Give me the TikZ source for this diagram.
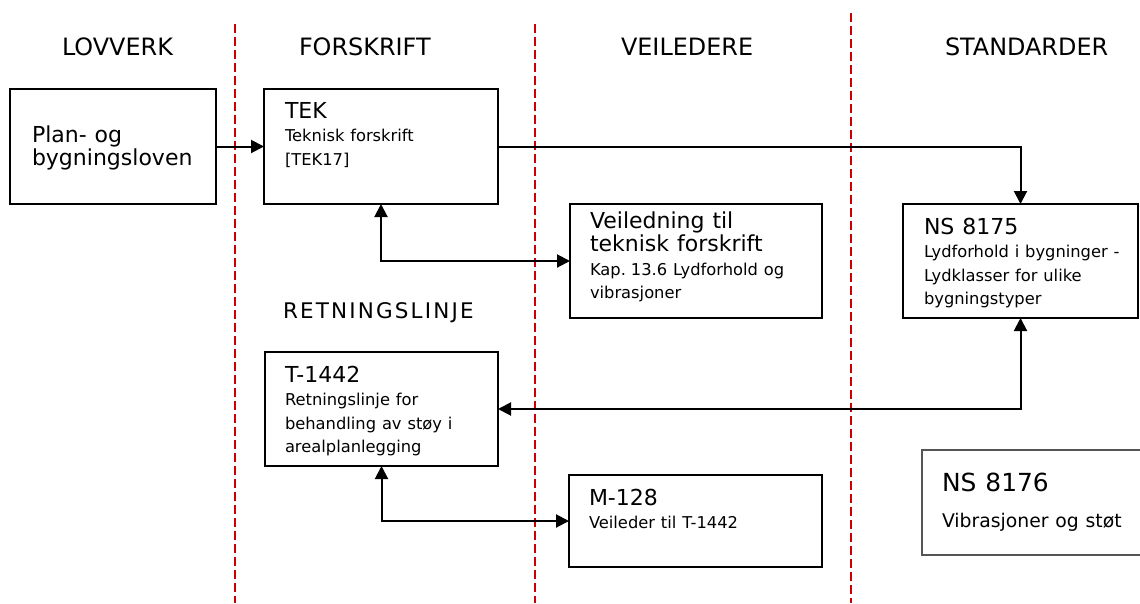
\documentclass[tikz,border=0pt]{standalone}
\usepackage{fontspec}
\setmainfont{DejaVu Sans}
\usetikzlibrary{arrows.meta,calc}

\definecolor{divred}{RGB}{204,0,0}
\definecolor{edgegrey}{RGB}{85,85,85}

% font sizes used in the boxes, with a fixed interword space
\newcommand\wsp{\spaceskip=0.36em\relax}
\newcommand\bxtitle{\fontsize{22}{23.5}\selectfont\wsp}
\newcommand\bxbody{\fontsize{16.3}{23.5}\selectfont\wsp}
\newcommand\colhead{\fontsize{23.9}{27}\selectfont\wsp}

\begin{document}
\begin{tikzpicture}[x=1pt,y=-1pt,
  every node/.style={inner sep=0pt, outer sep=0pt},
  docbox/.style={draw=black, line width=2pt, anchor=north west, minimum width=#1},
  boxtext/.style={anchor=base west, align=left, text width=235pt},
  heading/.style={anchor=base west, font=\colhead},
  divider/.style={divred, line width=2pt, dash pattern=on 9pt off 4pt},
  link/.style={line width=2pt, -{Triangle[length=13pt,width=13pt]}},
  duplex/.style={line width=2pt, {Triangle[length=13pt,width=13pt]}-{Triangle[length=13pt,width=13pt]}}
]
\useasboundingbox (0,0) rectangle (1140,603);

% column dividers
\draw[divider] (235,24) -- (235,603);
\draw[divider] (535,24) -- (535,603);
\draw[divider] (851,13) -- (851,603);

% column headings
\node[heading] (hlov) at (62,55) {LOVVERK};
\node[heading] (hfor) at (299,55) {FORSKRIFT};
\node[heading] (hvei) at (621,55) {VEILEDERE};
\node[heading] (hstd) at (945,55) {STANDARDER};
\node[anchor=base west, font={\fontsize{21.5}{24}\selectfont\addfontfeatures{LetterSpace=10}}] (hret) at (283,318) {RETNINGSLINJE};

% document boxes
\node[docbox=206pt, minimum height=115pt] (plan) at (10,89) {};
\node[docbox=234pt, minimum height=115pt] (tek) at (264,89) {};
\node[docbox=252pt, minimum height=114pt] (veil) at (570,204) {};
\node[docbox=235pt, minimum height=114pt] (ns75) at (903,204) {};
\node[docbox=233pt, minimum height=114pt] (t1442) at (265,352) {};
\node[docbox=253pt, minimum height=92pt] (m128) at (569,475) {};
\node[anchor=north west, minimum width=218pt, minimum height=105pt] (ns76) at (922,450) {};
\draw[edgegrey, line width=1.6pt] (ns76.north east) -- (ns76.north west) -- (ns76.south west) -- (ns76.south east);

% box texts
\node[boxtext] (plan-t) at ($(plan.north west)+(22,53)$) {\bxtitle Plan- og\par bygningsloven\par};
\node[boxtext] (tek-t) at ($(tek.north west)+(21,29)$) {\bxtitle TEK\par\bxbody Teknisk forskrift\par [TEK17]\par};
\node[boxtext] (veil-t) at ($(veil.north west)+(20,24)$) {\bxtitle Veiledning til\par teknisk forskrift\par\bxbody Kap. 13.6 Lydforhold og\par vibrasjoner\par};
\node[boxtext] (ns75-t) at ($(ns75.north west)+(21,30)$) {\bxtitle NS 8175\par\bxbody Lydforhold i bygninger -\par Lydklasser for ulike\par bygningstyper\par};
\node[boxtext] (t1442-t) at ($(t1442.north west)+(20,30)$) {\bxtitle T-1442\par\bxbody Retningslinje for\par behandling av støy i\par arealplanlegging\par};
\node[boxtext] (m128-t) at ($(m128.north west)+(20,30)$) {\bxtitle M-128\par\bxbody Veileder til T-1442\par};
\node[boxtext] (ns76-t) at ($(ns76.north west)+(20,41)$) {\fontsize{24.9}{36}\selectfont\wsp NS 8176\par\fontsize{18.8}{36}\selectfont\wsp Vibrasjoner og støt\par};

% connectors
\draw[link] (plan.east) -- (tek.west);
\draw[link] (tek.east) -| (ns75.north);
\draw[duplex] (tek.south) |- (veil.west);
\draw[duplex] (ns75.south) |- (t1442.east);
\draw[duplex] (t1442.south) |- (m128.west);
\end{tikzpicture}
\end{document}
